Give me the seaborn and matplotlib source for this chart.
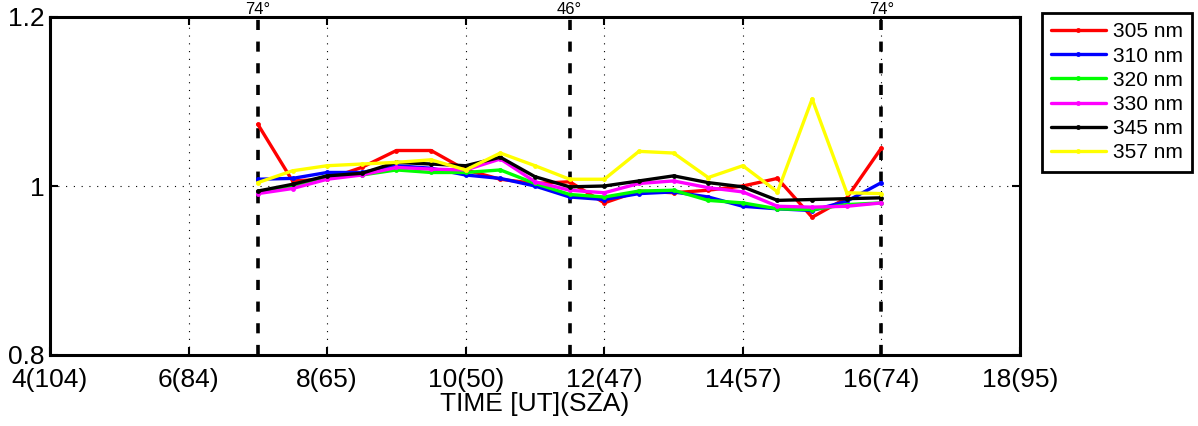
import matplotlib
matplotlib.use("Agg")
import matplotlib.pyplot as plt
import seaborn as sns
import pandas as pd
import numpy as np

# ---- data ----
times = [7.0, 7.5, 8.0, 8.5, 9.0, 9.5, 10.0, 10.5, 11.0, 11.5,
         12.0, 12.5, 13.0, 13.5, 14.0, 14.5, 15.0, 15.5, 16.0]
wl_305 = [1.073, 1.006, 1.008, 1.022, 1.042, 1.042, 1.019, 1.008, 1.003, 1.005,
          0.980, 0.994, 0.992, 0.995, 1.000, 1.009, 0.963, 0.986, 1.045]
wl_310 = [1.008, 1.009, 1.016, 1.016, 1.024, 1.021, 1.013, 1.009, 1.000, 0.987,
          0.984, 0.991, 0.993, 0.987, 0.976, 0.973, 0.971, 0.982, 1.004]
wl_320 = [0.993, 0.999, 1.012, 1.013, 1.019, 1.016, 1.016, 1.019, 1.003, 0.990,
          0.987, 0.994, 0.995, 0.983, 0.980, 0.973, 0.972, 0.978, 0.980]
wl_330 = [0.991, 0.997, 1.008, 1.013, 1.022, 1.020, 1.019, 1.032, 1.005, 0.995,
          0.992, 1.003, 1.006, 0.998, 0.993, 0.976, 0.975, 0.976, 0.980]
wl_345 = [0.994, 1.002, 1.012, 1.015, 1.028, 1.026, 1.024, 1.034, 1.011, 0.999,
          1.000, 1.006, 1.012, 1.004, 0.999, 0.983, 0.984, 0.985, 0.986]
wl_357 = [1.004, 1.018, 1.024, 1.026, 1.028, 1.031, 1.019, 1.039, 1.024, 1.008,
          1.008, 1.041, 1.039, 1.010, 1.024, 0.993, 1.103, 0.992, 0.991]

series_labels = ["305 nm", "310 nm", "320 nm", "330 nm", "345 nm", "357 nm"]
series_values = [wl_305, wl_310, wl_320, wl_330, wl_345, wl_357]
series_colors = ["#ff0000", "#0000ff", "#00ff00", "#ff00ff", "#000000", "#ffff00"]

xtick_pos = [4, 6, 8, 10, 12, 14, 16, 18]
xtick_labels = ["4(104)", "6(84)", "8(65)", "10(50)", "12(47)", "14(57)", "16(74)", "18(95)"]
ytick_pos = [0.8, 1.0, 1.2]
ytick_labels = ["0.8", "1", "1.2"]
sza_lines = [7.0, 11.5, 16.0]
sza_labels = ["74°", "46°", "74°"]

# ---- build long table ----
rows = []
for lab, vals in zip(series_labels, series_values):
    for t, v in zip(times, vals):
        rows.append({"time": t, "ratio": v, "wl": lab})
df = pd.DataFrame(rows)

sns.set_theme(style="white")
plt.rcParams["font.family"] = ["Liberation Sans", "DejaVu Sans"]
plt.rcParams["text.color"] = "black"
plt.rcParams["axes.labelcolor"] = "black"
plt.rcParams["xtick.color"] = "black"
plt.rcParams["ytick.color"] = "black"

fig = plt.figure(figsize=(11.98, 4.26), dpi=100)
ax = fig.add_axes([50 / 1198, 71 / 426, 970 / 1198, 338 / 426])

sns.lineplot(data=df, x="time", y="ratio", hue="wl", hue_order=series_labels,
             palette=dict(zip(series_labels, series_colors)), ax=ax,
             linewidth=2.4, marker="o", markersize=3.5, markeredgewidth=0,
             legend=True, zorder=3)

ax.set_xlim(4, 18)
ax.set_ylim(0.8, 1.2)
ax.set_xticks(xtick_pos)
ax.set_xticklabels(xtick_labels, fontsize=19)
ax.set_yticks(ytick_pos)
ax.set_yticklabels(ytick_labels, fontsize=19)
ax.set_xlabel("TIME [UT](SZA)", fontsize=19, labelpad=0, color="black")
ax.set_ylabel("")

ax.grid(True, linestyle=(0, (1, 6)), color="black", linewidth=0.8)
ax.tick_params(axis="x", direction="in", length=6, width=1.5, top=True,
               bottom=True, pad=9, colors="black")
ax.tick_params(axis="y", direction="in", length=6, width=1.5, left=True,
               right=True, pad=4, colors="black")
for s in ax.spines.values():
    s.set_color("black")
    s.set_linewidth(2.2)

for xv, lab in zip(sza_lines, sza_labels):
    ax.axvline(xv, color="black", linestyle=(0, (2.8, 3.2)), linewidth=2.6, zorder=2)
    ax.text(xv, 1.2, lab, ha="center", va="bottom", fontsize=12,
            transform=ax.transData, clip_on=False)

leg = ax.legend(loc="upper left", bbox_to_anchor=(1.0227, 1.012), fontsize=15,
                frameon=True, fancybox=False, edgecolor="black", framealpha=1,
                handlelength=2.6, labelspacing=0.25, borderpad=0.45,
                handletextpad=0.35, borderaxespad=0)
leg.get_frame().set_linewidth(2)
for h in leg.get_lines():
    h.set_linewidth(2.4)

fig.savefig("out.png", dpi=100)
